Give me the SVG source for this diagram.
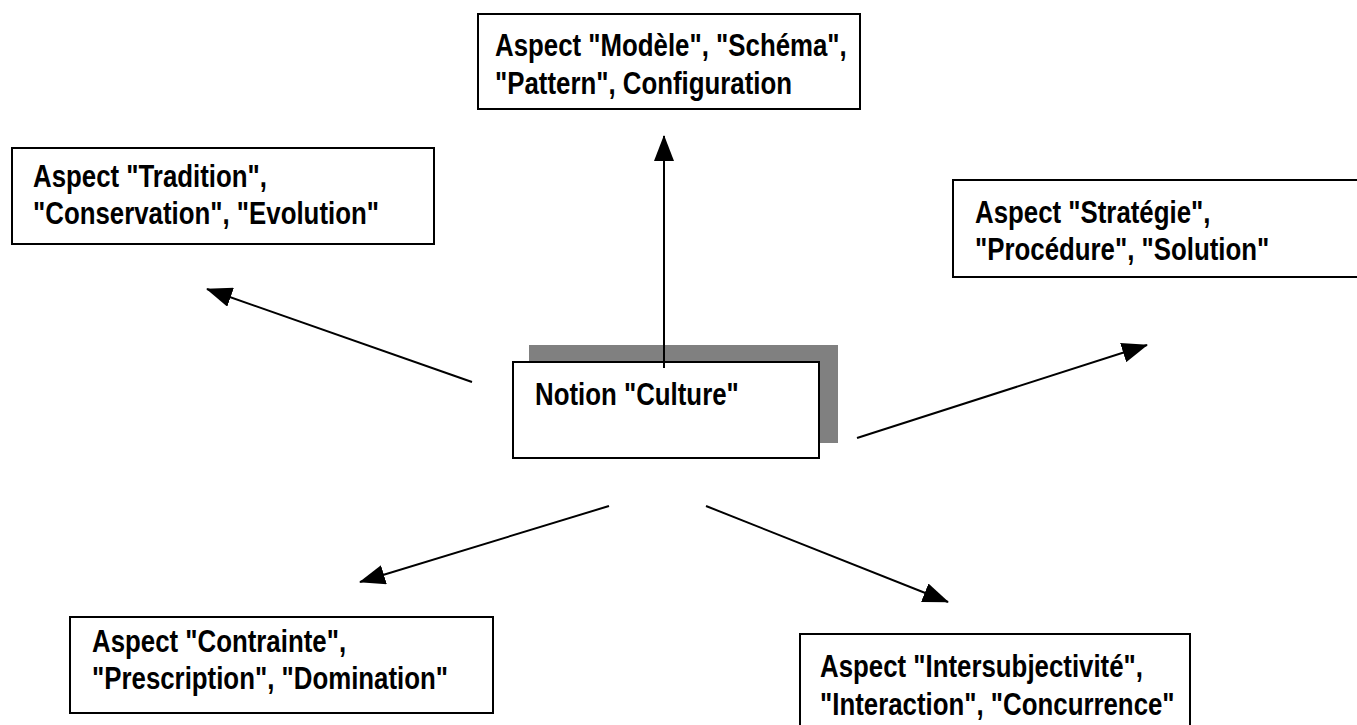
<svg xmlns="http://www.w3.org/2000/svg" width="1357" height="725" viewBox="0 0 1357 725">
<style>
.box{fill:#fff;stroke:#000;stroke-width:2}
.shadow{fill:#808080;stroke:none}
.t{font-family:"Liberation Sans",Arial,sans-serif;font-weight:bold;font-size:31.5px;fill:#000}
.c{stroke:#000;stroke-width:2;fill:none;marker-end:url(#ah)}
</style>
<defs>
<marker id="ah" markerUnits="userSpaceOnUse" markerWidth="26" markerHeight="20" refX="25" refY="10" orient="auto">
<path d="M0,0 L26,10 L0,20 Z" fill="#000"/>
</marker>
</defs>
<rect width="1357" height="725" fill="#fff"/>
<g id="node-culture">
<rect class="shadow" x="529" y="345" width="309" height="98"/>
<rect class="box" x="513" y="362" width="306" height="96"/>
<text class="t" transform="translate(535,405) scale(0.82 1)">Notion "Culture"</text>
</g>
<g id="connectors">
<line class="c" x1="664" y1="368" x2="664" y2="136"/>
<line class="c" x1="472" y1="382" x2="207" y2="289"/>
<line class="c" x1="857" y1="438" x2="1147" y2="345"/>
<line class="c" x1="609" y1="506" x2="360" y2="582"/>
<line class="c" x1="706" y1="506" x2="948" y2="602"/>
</g>
<g id="node-modele">
<rect class="box" x="478" y="14" width="382" height="95"/>
<text class="t" transform="translate(495,56) scale(0.82 1)"><tspan x="0" y="0">Aspect "Modèle", "Schéma",</tspan><tspan x="0" y="38">"Pattern", Configuration</tspan></text>
</g>
<g id="node-tradition">
<rect class="box" x="12" y="148" width="422" height="96"/>
<text class="t" transform="translate(33,187) scale(0.82 1)"><tspan x="0" y="0">Aspect "Tradition",</tspan><tspan x="0" y="37">"Conservation", "Evolution"</tspan></text>
</g>
<g id="node-strategie">
<rect class="box" x="953" y="180" width="420" height="97"/>
<text class="t" transform="translate(975,223) scale(0.82 1)"><tspan x="0" y="0">Aspect "Stratégie",</tspan><tspan x="0" y="37">"Procédure", "Solution"</tspan></text>
</g>
<g id="node-contrainte">
<rect class="box" x="70" y="617" width="423" height="96"/>
<text class="t" transform="translate(92,652) scale(0.82 1)"><tspan x="0" y="0">Aspect "Contrainte",</tspan><tspan x="0" y="37">"Prescription", "Domination"</tspan></text>
</g>
<g id="node-intersubjectivite">
<rect class="box" x="800" y="634" width="390" height="100"/>
<text class="t" transform="translate(820,677) scale(0.82 1)"><tspan x="0" y="0">Aspect "Intersubjectivité",</tspan><tspan x="0" y="38">"Interaction", "Concurrence"</tspan></text>
</g>
</svg>
